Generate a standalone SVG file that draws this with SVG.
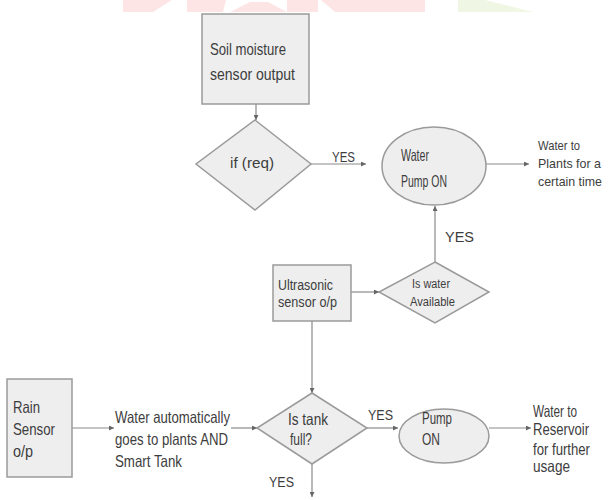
<svg xmlns="http://www.w3.org/2000/svg" width="608" height="500" viewBox="0 0 608 500">
<defs>
<marker id="ah" viewBox="0 0 6 6" refX="6" refY="3" markerWidth="5" markerHeight="5" orient="auto" markerUnits="userSpaceOnUse">
<path d="M0,0 L6,3 L0,6 z" fill="#666"/>
</marker>
</defs>
<style>
.shape{fill:#eeeeee;stroke:#9a9a9a;stroke-width:1.5}
.t{font-family:"Liberation Sans","Arial",sans-serif;font-size:16.5px;fill:#3d3d3d}
.m{font-size:13.5px}
.s{font-size:14px}
.xs{font-size:12px}
.c{fill:none;stroke:#8a8a8a;stroke-width:1.2;marker-end:url(#ah)}
</style>
<rect width="608" height="500" fill="#ffffff"/>
<g id="watermark" opacity="0.9">
<polygon points="123,0 172,0 153,12 123,12" fill="#fde3e3"/>
<polygon points="187,0 226,0 223,12 187,12" fill="#fde3e3"/>
<polygon points="230,12 250,2 268,2 287,12" fill="#fde3e3"/>
<polygon points="287,0 318,0 318,12 287,12" fill="#fde3e3"/>
<polygon points="321,0 425,0 425,12 335,12" fill="#fde3e3"/>
<polygon points="458,0 485,0 533,12 458,12" fill="#eef6e2"/>
</g>
<g id="connectors">
<line class="c" x1="256" y1="104" x2="256" y2="120"/>
<line class="c" x1="311" y1="164" x2="366" y2="164"/>
<line class="c" x1="486" y1="164" x2="529" y2="164"/>
<line class="c" x1="435" y1="262" x2="435" y2="206"/>
<line class="c" x1="351" y1="292" x2="379" y2="292"/>
<line class="c" x1="312" y1="321" x2="312" y2="393"/>
<line class="c" x1="72" y1="428" x2="114" y2="428"/>
<line class="c" x1="231" y1="428" x2="257" y2="428"/>
<line class="c" x1="367" y1="428" x2="398" y2="428"/>
<line class="c" x1="489" y1="428" x2="531" y2="428"/>
<line class="c" x1="312" y1="464" x2="312" y2="497"/>
</g>
<g id="soil">
<rect class="shape" x="202" y="14" width="107" height="90"/>
<text class="t" x="210" y="55" textLength="76" lengthAdjust="spacingAndGlyphs">Soil moisture</text>
<text class="t" x="210" y="80" textLength="85" lengthAdjust="spacingAndGlyphs">sensor output</text>
</g>
<g id="ifreq">
<polygon class="shape" points="255,120 311,164 255,210 196,164"/>
<text class="t s" x="230" y="168" textLength="44" lengthAdjust="spacingAndGlyphs">if (req)</text>
</g>
<g id="yes1"><text class="t s" x="332" y="162" textLength="23" lengthAdjust="spacingAndGlyphs">YES</text></g>
<g id="pump1">
<ellipse class="shape" cx="434" cy="166" rx="52" ry="39"/>
<text class="t" x="401" y="161" textLength="28" lengthAdjust="spacingAndGlyphs">Water</text>
<text class="t" x="401" y="187" textLength="46" lengthAdjust="spacingAndGlyphs">Pump ON</text>
</g>
<g id="out1">
<text class="t m" x="538" y="150" textLength="42" lengthAdjust="spacingAndGlyphs">Water to</text>
<text class="t m" x="538" y="168" textLength="63" lengthAdjust="spacingAndGlyphs">Plants for a</text>
<text class="t m" x="538" y="186" textLength="64" lengthAdjust="spacingAndGlyphs">certain time</text>
</g>
<g id="yes2"><text class="t s" x="445" y="242" textLength="29" lengthAdjust="spacingAndGlyphs">YES</text></g>
<g id="ultra">
<rect class="shape" x="273" y="265" width="78" height="56"/>
<text class="t s" x="278" y="290" textLength="55" lengthAdjust="spacingAndGlyphs">Ultrasonic</text>
<text class="t s" x="278" y="307" textLength="59" lengthAdjust="spacingAndGlyphs">sensor o/p</text>
</g>
<g id="iswater">
<polygon class="shape" points="435,262 489,292 435,323 379,292"/>
<text class="t xs" x="412" y="288" textLength="38" lengthAdjust="spacingAndGlyphs">Is water</text>
<text class="t xs" x="410" y="306" textLength="45" lengthAdjust="spacingAndGlyphs">Available</text>
</g>
<g id="rain">
<rect class="shape" x="7" y="379" width="65" height="98"/>
<text class="t" x="13" y="413" textLength="27" lengthAdjust="spacingAndGlyphs">Rain</text>
<text class="t" x="13" y="435" textLength="42" lengthAdjust="spacingAndGlyphs">Sensor</text>
<text class="t" x="13" y="457" textLength="20" lengthAdjust="spacingAndGlyphs">o/p</text>
</g>
<g id="auto">
<text class="t" x="115" y="423" textLength="115" lengthAdjust="spacingAndGlyphs">Water automatically</text>
<text class="t" x="115" y="445" textLength="113" lengthAdjust="spacingAndGlyphs">goes to plants AND</text>
<text class="t" x="115" y="467" textLength="67" lengthAdjust="spacingAndGlyphs">Smart Tank</text>
</g>
<g id="tank">
<polygon class="shape" points="312,393 367,428 312,464 257,428"/>
<text class="t" x="288" y="425" textLength="40" lengthAdjust="spacingAndGlyphs">Is tank</text>
<text class="t" x="290" y="445" textLength="22" lengthAdjust="spacingAndGlyphs">full?</text>
</g>
<g id="yes3"><text class="t s" x="368" y="420" textLength="25" lengthAdjust="spacingAndGlyphs">YES</text></g>
<g id="yes4"><text class="t s" x="269" y="487" textLength="25" lengthAdjust="spacingAndGlyphs">YES</text></g>
<g id="pump2">
<ellipse class="shape" cx="444" cy="436" rx="45" ry="27"/>
<text class="t" x="422" y="424" textLength="30" lengthAdjust="spacingAndGlyphs">Pump</text>
<text class="t" x="422" y="445" textLength="18" lengthAdjust="spacingAndGlyphs">ON</text>
</g>
<g id="out2">
<text class="t" x="533" y="417" textLength="44" lengthAdjust="spacingAndGlyphs">Water to</text>
<text class="t" x="533" y="435" textLength="56" lengthAdjust="spacingAndGlyphs">Reservoir</text>
<text class="t" x="533" y="455" textLength="57" lengthAdjust="spacingAndGlyphs">for further</text>
<text class="t" x="533" y="472" textLength="37" lengthAdjust="spacingAndGlyphs">usage</text>
</g>
</svg>
